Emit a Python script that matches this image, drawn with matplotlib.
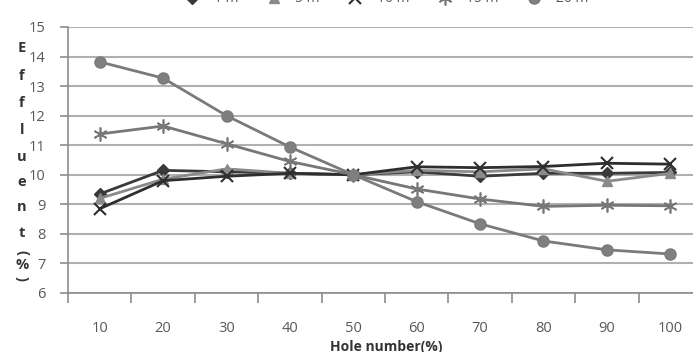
import matplotlib
matplotlib.use("Agg")
import matplotlib.pyplot as plt
import numpy as np

categories = ["10", "20", "30", "40", "50", "60", "70", "80", "90", "100"]
s_1m = [9.35, 10.15, 10.1, 10.05, 10.0, 10.1, 9.95, 10.05, 10.05, 10.08]
s_5m = [9.2, 9.85, 10.2, 10.05, 10.0, 10.15, 10.1, 10.2, 9.78, 10.05]
s_10m = [8.85, 9.8, 9.95, 10.05, 10.0, 10.27, 10.24, 10.28, 10.39, 10.36]
s_15m = [11.38, 11.65, 11.05, 10.45, 10.0, 9.52, 9.18, 8.93, 8.97, 8.95]
s_20m = [13.82, 13.27, 12.0, 10.94, 10.0, 9.09, 8.34, 7.76, 7.46, 7.32]
series_names = ["1 m", "5 m", "10 m", "15 m", "20 m"]
yticks = [6, 7, 8, 9, 10, 11, 12, 13, 14, 15]
ylabel_chars = ["E", "f", "f", "l", "u", "e", "n", "t", "(", "%", ")"]

plt.rcParams['font.family'] = ['Open Sans', 'DejaVu Sans']

fig = plt.figure(figsize=(6.93, 3.52), dpi=100)
W, H = 693, 352
left_px, right_px, top_px, bot_px = 68, 702, 27, 293
ax = fig.add_axes([left_px / W, 1 - bot_px / H, (right_px - left_px) / W, (bot_px - top_px) / H])

x = np.arange(1, len(categories) + 1)
styles = [
    dict(color="#3a3a3a", marker="D", ms=6, lw=2.0, mfc="#3a3a3a"),
    dict(color="#8a8a8a", marker="^", ms=7, lw=2.0, mfc="#8a8a8a"),
    dict(color="#2e2e2e", marker="x", ms=9, lw=2.0, mew=1.5),
    dict(color="#777777", marker=(6, 2, 0), ms=10, lw=2.0, mew=1.2),
    dict(color="#7a7a7a", marker="o", ms=8, lw=2.0, mfc="#7f7f7f"),
]
handles = []
for vals, name, st in zip([s_1m, s_5m, s_10m, s_15m, s_20m], series_names, styles):
    h, = ax.plot(x, vals, label=name, zorder=3, **st)
    handles.append(h)

ax.set_xlim(0.5, len(categories) + 0.5)
ax.set_ylim(6, 15)
ax.set_yticks(yticks)
ax.set_yticklabels([str(t) for t in yticks])
ax.yaxis.grid(True, color="#b0b0b0", lw=1.5)
ax.set_axisbelow(True)
for s in ["top", "right"]:
    ax.spines[s].set_visible(False)
for s in ["left", "bottom"]:
    ax.spines[s].set_color("#8c8c8c")
    ax.spines[s].set_linewidth(1.2)

# x ticks: boundaries as tick marks, labels at centers
ax.set_xticks(np.arange(0.5, len(categories) + 1, 1.0))
ax.set_xticklabels([])
ax.set_xticks(x, minor=True)
ax.set_xticklabels(categories, minor=True)
ax.tick_params(axis="x", which="major", length=7, color="#8c8c8c", width=1.2, direction="out")
ax.tick_params(axis="x", which="minor", length=0, pad=20, labelsize=10.5, labelcolor="#595959")
ax.tick_params(axis="y", length=6, color="#8c8c8c", width=1.2, direction="out", pad=10,
               labelsize=10.5, labelcolor="#595959")

# x label (partially cut at bottom, as in the reference)
fig.text(386 / W, 1 - 347 / H, "Hole number(%)", ha="center", va="center",
         fontsize=10, fontweight="bold", color="#333333")

# stacked y label
ys = [48, 76, 103, 130, 157, 182, 207, 233, 252, 265, 279]
for ch, yp in zip(ylabel_chars, ys):
    rot = 270 if ch in "()" else 0
    fig.text(22 / W, 1 - yp / H, ch, ha="center", va="center", fontsize=10.5,
             fontweight="bold", color="#333333", rotation=rot, rotation_mode="anchor")

# legend partially cut at top
fig.legend(handles=handles, labels=series_names, loc="center", ncol=5,
           bbox_to_anchor=(385 / W, 1 + 1 / H), frameon=False, fontsize=10,
           labelcolor="#595959", handlelength=1.5, columnspacing=1.8)

fig.savefig("out.png", dpi=100)
